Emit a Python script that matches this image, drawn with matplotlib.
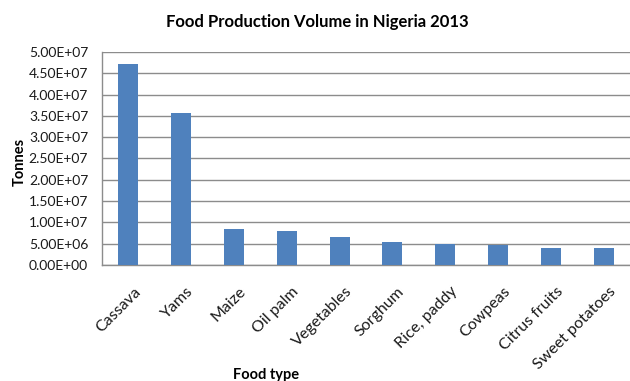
import matplotlib.pyplot as plt
import matplotlib.transforms as mtransforms
import numpy as np

# Food production in Nigeria, 2013 (tonnes)
foods = ['Cassava', 'Yams', 'Maize', 'Oil palm', 'Vegetables', 'Sorghum',
         'Rice, paddy', 'Cowpeas', 'Citrus fruits', 'Sweet potatoes']
tonnes = [47.3e6, 35.6e6, 8.45e6, 8.05e6, 6.5e6, 5.3e6, 4.95e6, 4.6e6, 3.9e6, 3.9e6]
yticks = np.arange(0, 5.5e7, 5e6)

plt.rcParams['font.family'] = ['Lato', 'DejaVu Sans']

fig = plt.figure(figsize=(6.3, 3.81), dpi=100)
ax = fig.add_axes([0.162, 0.3045, 0.838, 0.559])

x = np.arange(len(foods))
ax.bar(x, tonnes, width=0.38, color='#4F81BD', zorder=3)

ax.set_xlim(-0.5, len(foods) - 0.5)
ax.set_ylim(0, 5e7)
ax.set_yticks(yticks)
ax.set_yticklabels(['%.2fE+%02d' % (v / 10 ** int(np.log10(v)), int(np.log10(v)))
                    if v > 0 else '0.00E+00' for v in yticks], fontsize=10)
ax.set_xticks(x)
ax.set_xticklabels(foods, rotation=45, ha='right', va='top',
                   rotation_mode='anchor', fontsize=11.5)
ax.tick_params(axis='y', length=0, pad=10, colors='#1a1a1a')
ax.tick_params(axis='x', length=0, pad=14, colors='#1a1a1a')

# shift the slanted labels a little to the right, as in the original
shift = mtransforms.ScaledTranslation(5 / 100, 0, fig.dpi_scale_trans)
for lbl in ax.get_xticklabels():
    lbl.set_transform(lbl.get_transform() + shift)

ax.grid(axis='y', color='#8c8c8c', linewidth=1.0, zorder=0)
for s in ['top', 'right']:
    ax.spines[s].set_visible(False)
for s in ['left', 'bottom']:
    ax.spines[s].set_color('#8c8c8c')
    ax.spines[s].set_linewidth(1.0)

fig.text(0.503, 0.942, 'Food Production Volume in Nigeria 2013',
         ha='center', va='center', fontsize=12, fontweight='bold')
fig.text(0.032, 0.575, 'Tonnes', rotation=90, ha='center', va='center',
         fontsize=10.5, fontweight='bold')
fig.text(0.422, 0.015, 'Food type', ha='center', va='center',
         fontsize=10.5, fontweight='bold')

fig.savefig('out.png', dpi=100)
